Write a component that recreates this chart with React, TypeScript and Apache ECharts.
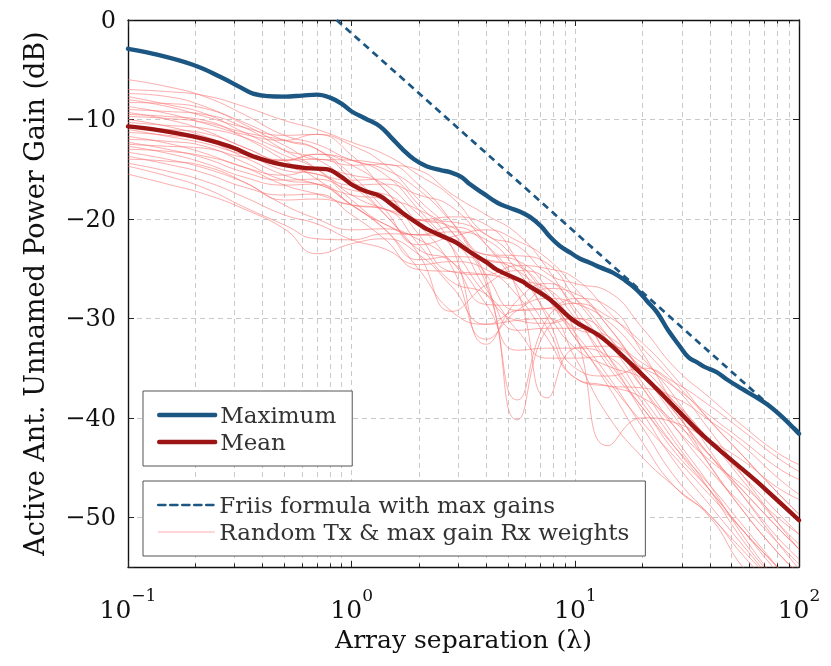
import { useEffect, useRef } from 'react';
import * as echarts from 'echarts';

const FONT = "'DejaVu Serif', serif";

// x positions (array separation, in wavelengths) shared by the random curves
const randomX = [0.1, 0.15, 0.22, 0.33, 0.5, 0.7, 1, 1.4, 2, 2.8, 4, 5.5, 7.5, 10, 14, 20, 28, 40, 56, 80, 100];

const random01 = [-6.0, -6.7, -7.7, -9.5, -11.6, -12.5, -14.1, -15.0, -17.1, -20.3, -24.1, -24.7, -27.5, -31.0, -31.8, -35.5, -39.5, -43.8, -47.3, -51.0, -53.2];
const random02 = [-7.0, -7.2, -7.6, -8.7, -10.1, -11.0, -12.3, -13.5, -15.6, -17.8, -21.6, -22.7, -25.5, -26.5, -27.3, -31.0, -35.0, -38.0, -40.8, -43.5, -44.7];
const random03 = [-7.4, -7.7, -8.7, -10.5, -12.6, -14.0, -14.1, -14.5, -15.1, -17.5, -19.6, -21.5, -25.0, -29.5, -34.8, -39.0, -43.5, -47.3, -51.3, -55.0, -57.2];
const random04 = [-8.0, -8.7, -9.7, -10.8, -11.6, -11.5, -13.6, -17.0, -20.1, -19.8, -20.6, -24.2, -30.0, -35.0, -35.8, -35.0, -36.5, -38.8, -41.3, -44.0, -45.4];
const random05 = [-8.3, -8.4, -8.9, -10.3, -12.1, -13.0, -15.6, -19.0, -22.6, -21.8, -21.1, -22.2, -24.0, -27.0, -30.8, -35.5, -39.5, -43.8, -47.8, -52.0, -54.2];
const random06 = [-8.7, -9.4, -10.4, -11.5, -12.1, -11.5, -12.6, -14.5, -18.1, -21.3, -26.6, -38.2, -30.0, -28.5, -29.8, -32.5, -36.0, -40.3, -43.8, -47.5, -49.7];
const random07 = [-9.0, -9.2, -9.5, -10.8, -13.1, -15.0, -18.1, -20.5, -21.6, -20.8, -22.6, -27.2, -38.0, -33.0, -32.8, -34.5, -37.0, -41.3, -45.8, -50.5, -53.2];
const random08 = [-9.3, -10.0, -11.1, -12.8, -14.1, -14.0, -14.6, -14.5, -16.6, -20.3, -25.6, -29.2, -29.0, -28.0, -28.8, -33.5, -39.0, -44.8, -49.3, -53.5, -55.7];
const random09 = [-9.7, -9.9, -10.3, -11.3, -12.1, -13.0, -16.1, -19.5, -23.6, -29.3, -26.6, -25.2, -26.0, -29.0, -33.8, -39.5, -44.5, -48.8, -52.8, -57.0, -59.7];
const random10 = [-10.0, -10.7, -11.7, -13.3, -15.1, -15.5, -16.6, -16.5, -17.6, -18.8, -22.6, -26.7, -31.0, -36.0, -36.8, -37.0, -38.0, -40.3, -42.8, -46.0, -47.7];
const random11 = [-10.3, -10.6, -10.9, -11.8, -13.6, -15.0, -17.6, -19.0, -20.1, -20.3, -21.6, -24.2, -28.0, -32.0, -36.3, -40.5, -44.0, -47.8, -51.3, -55.0, -57.2];
const random12 = [-10.7, -11.0, -11.4, -12.8, -14.6, -15.5, -16.1, -16.0, -18.6, -22.8, -32.6, -28.2, -26.5, -28.0, -31.8, -36.5, -41.0, -45.3, -48.8, -52.5, -54.7];
const random13 = [-11.0, -11.7, -12.4, -13.5, -14.1, -13.5, -14.6, -17.0, -21.6, -25.3, -25.6, -24.7, -25.0, -26.0, -29.3, -33.0, -36.5, -40.3, -43.8, -47.5, -49.7];
const random14 = [-11.3, -11.6, -12.1, -13.8, -15.6, -16.5, -17.6, -18.0, -19.1, -21.3, -26.1, -40.2, -31.0, -30.0, -33.8, -38.5, -43.0, -47.3, -51.3, -55.5, -57.7];
const random15 = [-11.7, -12.4, -13.4, -14.8, -15.6, -15.0, -15.6, -16.5, -19.6, -22.3, -23.6, -24.2, -27.0, -31.5, -42.8, -40.0, -40.5, -42.3, -44.3, -47.0, -48.2];
const random16 = [-12.0, -12.2, -12.7, -14.3, -16.1, -16.5, -18.6, -20.5, -21.6, -21.3, -22.1, -25.2, -29.5, -33.0, -34.8, -36.0, -38.5, -42.3, -45.8, -49.5, -51.7];
const random17 = [-12.3, -13.0, -13.9, -15.3, -16.1, -16.0, -17.1, -17.5, -20.6, -24.8, -32.1, -29.2, -28.0, -28.5, -30.3, -34.0, -38.0, -43.3, -47.8, -52.5, -55.2];
const random18 = [-12.7, -13.4, -14.4, -15.8, -16.6, -16.5, -18.6, -21.0, -24.1, -23.8, -24.1, -25.2, -28.0, -31.5, -35.8, -41.0, -46.0, -49.8, -53.3, -57.0, -59.2];
const random19 = [-13.0, -13.2, -13.7, -14.8, -16.6, -17.5, -18.6, -19.0, -20.1, -20.8, -23.6, -23.7, -24.5, -28.0, -32.3, -37.0, -41.0, -44.3, -46.8, -50.0, -51.7];
const random20 = [-13.3, -14.0, -14.9, -16.3, -18.1, -18.0, -18.6, -19.0, -22.6, -26.3, -27.6, -31.2, -34.0, -34.0, -33.8, -35.0, -37.0, -39.8, -42.3, -45.0, -46.2];
const random21 = [-13.7, -14.5, -15.4, -16.8, -17.6, -17.5, -19.6, -22.0, -25.1, -25.3, -25.6, -26.2, -27.0, -30.0, -34.3, -39.0, -43.0, -46.8, -50.8, -55.0, -57.7];
const random22 = [-14.0, -14.2, -14.7, -16.3, -18.6, -20.0, -21.1, -21.0, -22.1, -24.3, -28.6, -28.7, -27.0, -27.5, -30.8, -35.5, -40.0, -44.8, -49.3, -53.5, -55.7];
const random23 = [-14.4, -15.2, -16.2, -17.8, -19.6, -20.5, -22.1, -23.0, -24.6, -24.3, -25.1, -27.7, -32.0, -36.0, -36.8, -38.0, -40.5, -43.8, -47.3, -51.0, -53.2];
const random24 = [-14.7, -15.7, -16.9, -18.8, -20.6, -22.0, -22.1, -21.5, -21.6, -22.3, -27.1, -31.2, -31.0, -31.0, -32.3, -35.0, -38.5, -42.3, -46.3, -50.5, -52.7];
const random25 = [-15.5, -16.5, -17.5, -19.0, -21.0, -23.5, -22.5, -22.0, -23.6, -26.8, -30.6, -30.2, -30.0, -34.0, -39.8, -44.0, -47.0, -50.0, -55.0, -58.5, -60.2];
const random26 = [-9.5, -9.7, -10.1, -11.8, -14.1, -16.0, -18.6, -21.0, -25.1, -29.3, -30.6, -29.2, -29.0, -32.0, -36.8, -42.5, -47.0, -49.8, -53.8, -57.5, -59.7];
const random27 = [-12.5, -12.7, -12.9, -13.8, -14.1, -13.5, -14.1, -15.5, -19.1, -22.8, -27.6, -30.2, -30.5, -30.0, -31.8, -37.0, -42.0, -46.8, -51.8, -56.5, -59.2];
const random28 = [-7.7, -8.5, -9.4, -11.3, -13.1, -14.0, -16.6, -19.5, -23.1, -24.3, -28.6, -33.2, -33.0, -33.0, -33.8, -38.0, -42.5, -47.3, -52.3, -56.5, -58.7];

const randomCurves = [
  random01, random02, random03, random04, random05, random06, random07,
  random08, random09, random10, random11, random12, random13, random14,
  random15, random16, random17, random18, random19, random20, random21,
  random22, random23, random24, random25, random26, random27, random28,
];

const maxX = [0.1, 0.13, 0.195, 0.258, 0.32, 0.362, 0.42, 0.5, 0.6, 0.7, 0.8, 0.9, 1.0, 1.15, 1.34, 1.5, 1.69, 1.9, 2.16, 2.5, 2.75, 3.1, 3.37, 3.86, 4.5, 5.1, 5.7, 6.26, 7.0, 7.7, 8.5, 9.5, 10.5, 11.6, 13, 14.7, 16.5, 18.8, 21, 23.2, 26, 29.3, 32, 34.9, 38, 42.8, 48, 55.7, 64, 73.7, 85, 100];
const maxY = [-2.9, -3.4, -4.5, -5.7, -6.8, -7.4, -7.65, -7.7, -7.6, -7.5, -7.8, -8.4, -9.2, -9.9, -10.7, -11.8, -13.0, -14.0, -14.7, -15.1, -15.3, -15.8, -16.5, -17.4, -18.4, -18.9, -19.3, -19.8, -20.7, -21.8, -22.7, -23.4, -24.0, -24.4, -24.9, -25.4, -26.1, -27.1, -28.3, -29.4, -31.2, -32.8, -33.9, -34.4, -34.9, -35.4, -36.2, -37.1, -37.9, -38.8, -40.0, -41.6];

const meanX = [0.1, 0.13, 0.195, 0.258, 0.3, 0.362, 0.478, 0.63, 0.77, 0.89, 1.01, 1.15, 1.34, 1.5, 1.69, 2.02, 2.16, 2.7, 2.95, 3.37, 4.03, 4.45, 5.8, 6.07, 7.7, 9.8, 12.9, 16.3, 21.5, 28.3, 37.3, 49, 64.7, 100];
const meanY = [-10.7, -11.0, -11.7, -12.4, -12.9, -13.7, -14.5, -14.9, -15.0, -15.7, -16.6, -17.2, -17.7, -18.5, -19.4, -20.6, -21.0, -22.0, -22.4, -23.3, -24.4, -25.1, -26.3, -26.6, -28.1, -30.2, -31.8, -33.8, -36.4, -39.1, -41.8, -44.1, -46.4, -50.3];

const friisX = [0.857, 100];
const friisY = [0, -41.4];

// minor decade positions for the dashed log grid and minor ticks
const minorGridX = [0.2, 0.3, 0.4, 0.5, 0.6, 0.7, 0.8, 0.9, 2, 3, 4, 5, 6, 7, 8, 9, 20, 30, 40, 50, 60, 70, 80, 90];

const NAME_MAX = 'Maximum';
const NAME_MEAN = 'Mean';
const NAME_FRIIS = 'Friis formula with max gains';
const NAME_RANDOM = 'Random Tx & max gain Rx weights';

const BLUE = '#1c5682';
const RED = '#9b1515';
const PINK = 'rgba(250,118,118,0.68)';
const GRID_C = '#c9c9c9';

export default function App() {
  const ref = useRef<HTMLDivElement>(null);

  useEffect(() => {
    const chart = echarts.init(ref.current!, undefined, { renderer: 'svg' });

    const zip = (xs: number[], ys: number[]) => xs.map((x, i) => [x, ys[i]]);

    const yFmt = (v: number) => {
      const r = Math.round(v);
      if (r % 10 !== 0) return '';
      return r < 0 ? '\u2212' + Math.abs(r) : String(r);
    };
    const xFmt = (v: number) => {
      const e = Math.round(Math.log10(v));
      const s = e < 0 ? '\u2212' + Math.abs(e) : String(e);
      return '{b|10}{s|' + s + '}';
    };

    const axisLine = { show: true, onZero: false, lineStyle: { color: '#111', width: 1.4 } };
    const axisTick = { show: true, inside: true, length: 6, lineStyle: { color: '#222', width: 1 } };
    const dashed = { show: true, lineStyle: { color: GRID_C, width: 1, type: [5, 4] } };

    const legendCommon = {
      orient: 'vertical',
      left: 143,
      padding: [11, 16, 11, 14],
      itemGap: 1,
      itemWidth: 56,
      itemHeight: 14,
      backgroundColor: '#fff',
      borderColor: '#555',
      borderWidth: 1,
      borderRadius: 0,
      selectedMode: false,
      itemStyle: { opacity: 0 },
      lineStyle: { width: 'inherit', type: 'inherit', cap: 'round' },
      textStyle: { fontFamily: FONT, fontSize: 23, color: '#333', lineHeight: 26 },
    };

    const randomSeries = randomCurves.map((c) => ({
      type: 'line',
      name: NAME_RANDOM,
      data: zip(randomX, c),
      smooth: 0.5,
      symbol: 'none',
      silent: true,
      color: PINK,
      lineStyle: { color: PINK, width: 0.9 },
      itemStyle: { color: PINK, opacity: 0 },
      z: 2,
    }));

    const option = {
      animation: false,
      textStyle: { fontFamily: FONT },
      grid: { left: 128, top: 20, width: 671, height: 547, containLabel: false },
      legend: [
        { ...legendCommon, top: 391, data: [NAME_MAX, NAME_MEAN] },
        { ...legendCommon, top: 481, data: [NAME_FRIIS, NAME_RANDOM] },
      ],
      xAxis: [
        {
          type: 'log',
          logBase: 10,
          min: 0.1,
          max: 100,
          position: 'bottom',
          name: 'Array separation (\u03bb)',
          nameLocation: 'middle',
          nameGap: 54,
          nameTextStyle: { fontFamily: FONT, fontSize: 25, color: '#111' },
          axisLine,
          axisTick,
          splitLine: dashed,
          minorTick: { show: false },
          axisLabel: {
            margin: 19,
            formatter: xFmt,
            rich: {
              b: { fontFamily: FONT, fontSize: 25, color: '#111', lineHeight: 36, verticalAlign: 'bottom' },
              s: { fontFamily: FONT, fontSize: 17, color: '#111', lineHeight: 14, verticalAlign: 'top' },
            },
          },
        },
        {
          type: 'log',
          logBase: 10,
          min: 0.1,
          max: 100,
          position: 'top',
          axisLine,
          axisTick,
          splitLine: { show: false },
          axisLabel: { show: false },
        },
      ],
      yAxis: [
        {
          type: 'value',
          min: -55,
          max: 0,
          splitNumber: 5,
          position: 'left',
          name: 'Active Ant. Unnamed Power Gain (dB)',
          nameLocation: 'middle',
          nameGap: 80,
          nameTextStyle: { fontFamily: FONT, fontSize: 27, color: '#111' },
          axisLine,
          axisTick,
          splitLine: dashed,
          axisLabel: { margin: 12, fontFamily: FONT, fontSize: 24, color: '#111', formatter: yFmt },
        },
        {
          type: 'value',
          min: -55,
          max: 0,
          splitNumber: 5,
          position: 'right',
          axisLine,
          axisTick,
          splitLine: { show: false },
          axisLabel: { show: false },
        },
      ],
      series: [
        {
          type: 'line',
          name: '_grid',
          data: [],
          silent: true,
          z: 1,
          markLine: {
            silent: true,
            z: 1,
            symbol: ['none', 'none'],
            label: { show: false },
            lineStyle: { color: GRID_C, width: 1, type: [5, 4] },
            emphasis: { disabled: true },
            data: minorGridX.map((v) => ({ xAxis: v })),
          },
        },
        {
          type: 'line',
          name: '_ticks',
          data: [],
          silent: true,
          z: 6,
          markLine: {
            silent: true,
            z: 6,
            symbol: ['none', 'none'],
            label: { show: false },
            lineStyle: { color: '#222', width: 1, type: 'solid' },
            emphasis: { disabled: true },
            data: [
              ...minorGridX.map((v) => [{ coord: [v, -55] }, { coord: [v, -54.65] }]),
              ...minorGridX.map((v) => [{ coord: [v, 0] }, { coord: [v, -0.35] }]),
            ],
          },
        },
        ...randomSeries,
        {
          type: 'line',
          name: NAME_MEAN,
          data: zip(meanX, meanY),
          smooth: 0.4,
          symbol: 'none',
          silent: true,
          color: RED,
          lineStyle: { color: RED, width: 4.4, cap: 'round', join: 'round' },
          itemStyle: { color: RED, opacity: 0 },
          z: 3,
        },
        {
          type: 'line',
          name: NAME_MAX,
          data: zip(maxX, maxY),
          smooth: 0.4,
          symbol: 'none',
          silent: true,
          color: BLUE,
          lineStyle: { color: BLUE, width: 4.4, cap: 'round', join: 'round' },
          itemStyle: { color: BLUE, opacity: 0 },
          z: 4,
        },
        {
          type: 'line',
          name: NAME_FRIIS,
          data: zip(friisX, friisY),
          symbol: 'none',
          silent: true,
          color: BLUE,
          lineStyle: { color: BLUE, width: 2.7, type: [7, 5] },
          itemStyle: { color: BLUE, opacity: 0 },
          z: 5,
        },
      ],
    };

    chart.setOption(option as any);
    return () => chart.dispose();
  }, []);

  return <div ref={ref} style={{ position: 'fixed', left: 0, top: 0, width: 831, height: 666 }} />;
}
